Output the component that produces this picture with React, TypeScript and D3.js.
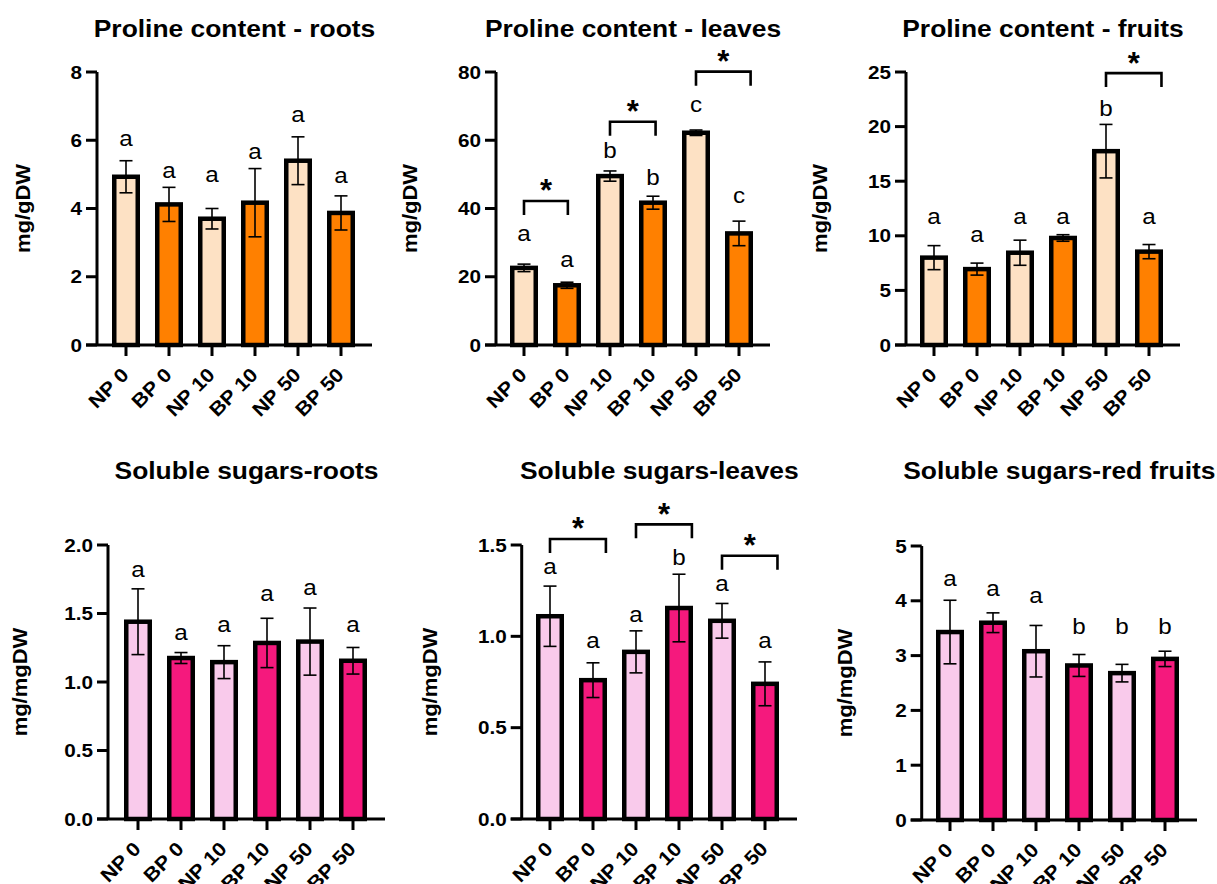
import React from "react";
import * as d3 from "d3";

const categories = ["NP 0", "BP 0", "NP 10", "BP 10", "NP 50", "BP 50"];

// Proline content - roots
const prolineRootsMean = [4.93, 4.12, 3.7, 4.17, 5.4, 3.87];
const prolineRootsErr = [0.47, 0.5, 0.3, 1.0, 0.7, 0.5];
const prolineRootsLetters = ["a", "a", "a", "a", "a", "a"];
const prolineRootsLetterAt = [6.0, 5.07, 4.93, 5.62, 6.71, 4.92];
const prolineRootsTicks = [0, 2, 4, 6, 8];

// Proline content - leaves
const prolineLeavesMean = [22.6, 17.5, 49.5, 41.7, 62.2, 32.7];
const prolineLeavesErr = [1.1, 0.9, 1.5, 1.9, 0.8, 3.6];
const prolineLeavesLetters = ["a", "a", "b", "b", "c", "c"];
const prolineLeavesLetterAt = [32.2, 24.6, 57.1, 49.1, 70.0, 43.2];
const prolineLeavesTicks = [0, 20, 40, 60, 80];
const prolineLeavesBrackets: [number, number, number][] = [
  [0, 1.02, 42.2],
  [2, 3.06, 65.4],
  [4, 5.27, 80.1],
];

// Proline content - fruits
const prolineFruitsMean = [8.0, 6.95, 8.45, 9.8, 17.75, 8.55];
const prolineFruitsErr = [1.1, 0.55, 1.15, 0.3, 2.45, 0.65];
const prolineFruitsLetters = ["a", "a", "a", "a", "b", "a"];
const prolineFruitsLetterAt = [11.6, 9.92, 11.6, 11.6, 21.67, 11.6];
const prolineFruitsTicks = [0, 5, 10, 15, 20, 25];
const prolineFruitsBrackets: [number, number, number][] = [[4, 5.29, 24.9]];

// Soluble sugars - roots
const sugarRootsMean = [1.44, 1.175, 1.145, 1.285, 1.295, 1.155];
const sugarRootsErr = [0.24, 0.04, 0.12, 0.18, 0.245, 0.097];
const sugarRootsLetters = ["a", "a", "a", "a", "a", "a"];
const sugarRootsLetterAt = [1.81, 1.35, 1.41, 1.63, 1.68, 1.41];
const sugarRootsTicks = [0, 0.5, 1.0, 1.5, 2.0];

// Soluble sugars - leaves
const sugarLeavesMean = [1.11, 0.76, 0.915, 1.155, 1.085, 0.74];
const sugarLeavesErr = [0.165, 0.095, 0.115, 0.185, 0.095, 0.12];
const sugarLeavesLetters = ["a", "a", "a", "b", "a", "a"];
const sugarLeavesLetterAt = [1.372, 0.97, 1.111, 1.436, 1.281, 0.97];
const sugarLeavesTicks = [0, 0.5, 1.0, 1.5];
const sugarLeavesBrackets: [number, number, number][] = [
  [0, 1.3, 1.533],
  [2, 3.3, 1.613],
  [4, 5.29, 1.441],
];

// Soluble sugars - red fruits
const sugarFruitsMean = [3.43, 3.6, 3.08, 2.82, 2.68, 2.94];
const sugarFruitsErr = [0.58, 0.18, 0.47, 0.2, 0.16, 0.14];
const sugarFruitsLetters = ["a", "a", "a", "b", "b", "b"];
const sugarFruitsLetterAt = [4.37, 4.2, 4.06, 3.53, 3.53, 3.53];
const sugarFruitsTicks = [0, 1, 2, 3, 4, 5];

const PEACH = "#FDE1C4";
const ORANGE = "#FF8000";
const LIGHTPINK = "#F9CAEB";
const HOTPINK = "#F5197D";

const FONT = "'Liberation Sans', Arial, Helvetica, sans-serif";
const SX = 1.1;

type Layout = {
  axisX: number;
  x0: number;
  axisEnd: number;
  yTop: number;
  yBot: number;
  titleY: number;
  ylabX: number;
};

type PanelProps = {
  title: string;
  yLabel: string;
  means: number[];
  errs: number[];
  letters: string[];
  letterAt: number[];
  ticks: number[];
  fmt: (v: number) => string;
  colors: [string, string];
  brackets?: [number, number, number][];
  layout: Layout;
};

function STxt(props: {
  x: number;
  y: number;
  rot?: number;
  sx?: number;
  size: number;
  weight?: string | number;
  anchor?: string;
  children: React.ReactNode;
}) {
  const { x, y, rot = 0, sx = SX, size, weight = "bold", anchor = "middle" } = props;
  return (
    <g transform={`translate(${x},${y}) rotate(${rot}) scale(${sx},1)`}>
      <text
        x={0}
        y={0}
        fontFamily={FONT}
        fontSize={size}
        fontWeight={weight}
        textAnchor={anchor as any}
        fill="#000"
      >
        {props.children}
      </text>
    </g>
  );
}

function Panel(p: PanelProps) {
  const L = p.layout;
  const step = 43;
  const x = d3
    .scaleBand<string>()
    .domain(categories)
    .range([L.x0, L.x0 + step * categories.length])
    .paddingInner(0.4)
    .paddingOuter(0.2);
  const bw = x.bandwidth();
  const cx = (c: string) => (x(c) as number) + bw / 2;
  const idx = d3
    .scaleLinear()
    .domain([0, categories.length - 1])
    .range([cx(categories[0]), cx(categories[categories.length - 1])]);
  const y = d3
    .scaleLinear()
    .domain([0, p.ticks[p.ticks.length - 1]])
    .range([L.yBot, L.yTop]);
  const sw = 4.5;
  const barOuter = 28;
  const capHalf = 6.5;
  const letterSize = 22;

  return (
    <g>
      <STxt x={(L.axisX + L.axisEnd) / 2} y={L.titleY} size={24}>
        {p.title}
      </STxt>
      <STxt x={L.ylabX} y={(L.yTop + L.yBot) / 2} rot={-90} size={20}>
        {p.yLabel}
      </STxt>

      {/* bars */}
      {categories.map((c, i) => (
        <rect
          key={"b" + c}
          x={cx(c) - barOuter / 2 + sw / 2}
          y={y(p.means[i])}
          width={barOuter - sw}
          height={y(0) - y(p.means[i])}
          fill={p.colors[i % 2]}
          stroke="#000"
          strokeWidth={sw}
        />
      ))}

      {/* error bars */}
      {categories.map((c, i) => {
        const hi = y(p.means[i] + p.errs[i]);
        const lo = y(p.means[i] - p.errs[i]);
        const xc = cx(c);
        return (
          <g key={"e" + c} stroke="#000" strokeWidth={1.6} fill="none">
            <line x1={xc} x2={xc} y1={hi} y2={lo} />
            <line x1={xc - capHalf} x2={xc + capHalf} y1={hi} y2={hi} />
            <line x1={xc - capHalf} x2={xc + capHalf} y1={lo} y2={lo} />
          </g>
        );
      })}

      {/* letters */}
      {categories.map((c, i) => {
        const l = p.letters[i];
        const off = (l === "b" ? 0.36 : 0.26) * letterSize;
        return (
          <STxt
            key={"l" + c}
            x={cx(c)}
            y={y(p.letterAt[i]) + off}
            size={letterSize}
            weight="normal"
          >
            {l}
          </STxt>
        );
      })}

      {/* significance brackets */}
      {(p.brackets || []).map((b, k) => {
        const xa = idx(b[0]);
        const xb = idx(b[1]);
        const yb = y(b[2]);
        const leg = 14;
        return (
          <g key={"k" + k}>
            <path
              d={`M${xa},${yb + leg}V${yb}H${xb}V${yb + leg}`}
              fill="none"
              stroke="#000"
              strokeWidth={2.6}
            />
            <STxt x={(xa + xb) / 2} y={yb + 0.5} size={31} sx={1}>
              *
            </STxt>
          </g>
        );
      })}

      {/* y axis */}
      <line x1={L.axisX} x2={L.axisX} y1={L.yTop} y2={L.yBot} stroke="#000" strokeWidth={3} />
      {p.ticks.map((t) => (
        <g key={"yt" + t}>
          <line
            x1={L.axisX - 11}
            x2={L.axisX}
            y1={y(t)}
            y2={y(t)}
            stroke="#000"
            strokeWidth={3}
          />
          <STxt x={L.axisX - 15} y={y(t) + 6.6} size={18.5} anchor="end" sx={1.12}>
            {p.fmt(t)}
          </STxt>
        </g>
      ))}

      {/* x axis */}
      <line x1={L.axisX - 11} x2={L.axisEnd} y1={L.yBot} y2={L.yBot} stroke="#000" strokeWidth={3} />
      {categories.map((c) => (
        <g key={"xt" + c}>
          <line x1={cx(c)} x2={cx(c)} y1={L.yBot} y2={L.yBot + 11} stroke="#000" strokeWidth={3} />
          <STxt x={cx(c) + 4} y={L.yBot + 31} rot={-45} size={19.5} anchor="end">
            {c}
          </STxt>
        </g>
      ))}
    </g>
  );
}

const fmtInt = d3.format("d");
const fmt1 = d3.format(".1f");

export default function App() {
  return (
    <svg
      width={1217}
      height={884}
      style={{ position: "absolute", left: 0, top: 0, display: "block", background: "#fff" }}
    >
      <rect width={1217} height={884} fill="#fff" />
      <Panel
        title="Proline content - roots"
        yLabel="mg/gDW"
        means={prolineRootsMean}
        errs={prolineRootsErr}
        letters={prolineRootsLetters}
        letterAt={prolineRootsLetterAt}
        ticks={prolineRootsTicks}
        fmt={fmtInt}
        colors={[PEACH, ORANGE]}
        layout={{ axisX: 97, x0: 104.5, axisEnd: 372, yTop: 72, yBot: 345, titleY: 36.7, ylabX: 30 }}
      />
      <Panel
        title="Proline content - leaves"
        yLabel="mg/gDW"
        means={prolineLeavesMean}
        errs={prolineLeavesErr}
        letters={prolineLeavesLetters}
        letterAt={prolineLeavesLetterAt}
        ticks={prolineLeavesTicks}
        fmt={fmtInt}
        colors={[PEACH, ORANGE]}
        brackets={prolineLeavesBrackets}
        layout={{ axisX: 496, x0: 502.5, axisEnd: 770, yTop: 72, yBot: 345, titleY: 36.7, ylabX: 417 }}
      />
      <Panel
        title="Proline content - fruits"
        yLabel="mg/gDW"
        means={prolineFruitsMean}
        errs={prolineFruitsErr}
        letters={prolineFruitsLetters}
        letterAt={prolineFruitsLetterAt}
        ticks={prolineFruitsTicks}
        fmt={fmtInt}
        colors={[PEACH, ORANGE]}
        brackets={prolineFruitsBrackets}
        layout={{ axisX: 906, x0: 912.5, axisEnd: 1180, yTop: 72, yBot: 345, titleY: 36.7, ylabX: 827 }}
      />
      <Panel
        title="Soluble sugars-roots"
        yLabel="mg/mgDW"
        means={sugarRootsMean}
        errs={sugarRootsErr}
        letters={sugarRootsLetters}
        letterAt={sugarRootsLetterAt}
        ticks={sugarRootsTicks}
        fmt={fmt1}
        colors={[LIGHTPINK, HOTPINK]}
        layout={{ axisX: 108, x0: 116.5, axisEnd: 385, yTop: 545, yBot: 819, titleY: 479, ylabX: 27 }}
      />
      <Panel
        title="Soluble sugars-leaves"
        yLabel="mg/mgDW"
        means={sugarLeavesMean}
        errs={sugarLeavesErr}
        letters={sugarLeavesLetters}
        letterAt={sugarLeavesLetterAt}
        ticks={sugarLeavesTicks}
        fmt={fmt1}
        colors={[LIGHTPINK, HOTPINK]}
        brackets={sugarLeavesBrackets}
        layout={{ axisX: 521.7, x0: 528.5, axisEnd: 797, yTop: 545, yBot: 819, titleY: 479, ylabX: 437 }}
      />
      <Panel
        title="Soluble sugars-red fruits"
        yLabel="mg/mgDW"
        means={sugarFruitsMean}
        errs={sugarFruitsErr}
        letters={sugarFruitsLetters}
        letterAt={sugarFruitsLetterAt}
        ticks={sugarFruitsTicks}
        fmt={fmtInt}
        colors={[LIGHTPINK, HOTPINK]}
        layout={{ axisX: 921.7, x0: 928.5, axisEnd: 1197, yTop: 546, yBot: 820, titleY: 479, ylabX: 852 }}
      />
    </svg>
  );
}
